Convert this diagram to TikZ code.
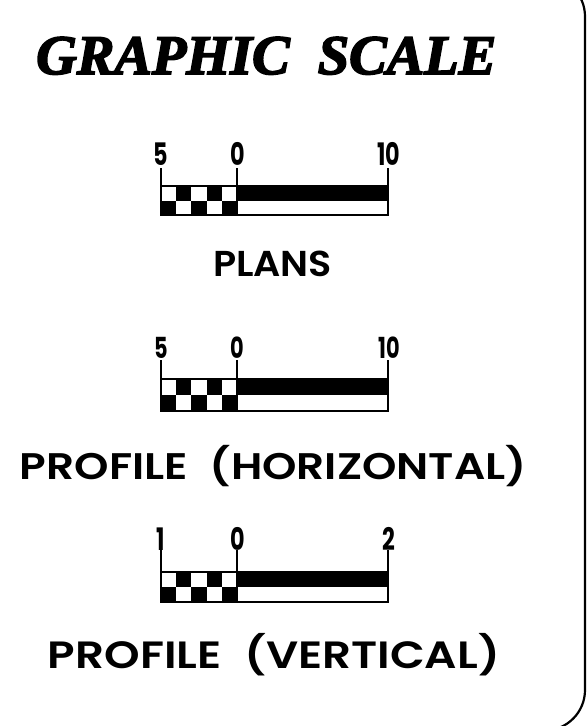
\documentclass[tikz,border=0pt]{standalone}
\usepackage{fontspec}
\setmainfont{Poppins}[BoldFont={Poppins SemiBold}]
\newfontfamily\digfont{Poppins Bold}
\newfontfamily\titlefont{Liberation Serif}[BoldItalicFeatures={FakeBold=3}]
\tikzset{
  lbl/.style={inner sep=0pt},
  txt/.style={inner sep=0pt, anchor=base, font=\bfseries},
  barline/.style={line width=1.8pt},
  frame/.style={line width=2.2pt, rounded corners=40.5pt}
}
% #1 name, #2 top, #3 bottom, #4 tick top, #5 label baseline, #6 #7 #8 labels, #9 label size
\newcommand\gsdigit[2]{\scalebox{0.72}[1]{\digfont\fontsize{#1}{#1}\selectfont #2}}
\newcommand\gsbar[9]{%
  \pgfmathsetmacro\gsmid{(#2+#3)/2}%
  \foreach \i in {0,...,4}{%
    \pgfmathsetmacro\xa{161+\i*15.2}%
    \pgfmathsetmacro\xb{\xa+15.2}%
    \ifodd\i\relax
      \fill (\xa,#2) rectangle (\xb,\gsmid);
    \else
      \fill (\xa,\gsmid) rectangle (\xb,#3);
    \fi
  }
  \fill (237,#2) rectangle (388,\gsmid);
  \draw[barline] (161,#2) rectangle (388,#3);
  \draw[barline] (237,#2) -- (237,#3);
  \coordinate (#1a) at (161,#4);
  \coordinate (#1b) at (237,#4);
  \coordinate (#1c) at (388,#4);
  \draw[barline] (#1a) -- (161,#2);
  \draw[barline] (#1b) -- (237,#2);
  \draw[barline] (#1c) -- (388,#2);
  \node[lbl, anchor=base] (#1l) at (161,#5) {\gsdigit{#9}{#6}};
  \node[lbl, anchor=base] (#1m) at (237.5,#5) {\gsdigit{#9}{#7}};
  \node[lbl, anchor=base] (#1r) at (389,#5) {\gsdigit{#9}{#8}};
}
\begin{document}
\begin{tikzpicture}[x=1pt,y=-1pt]
\useasboundingbox (0,0) rectangle (587,726);
\fill[white] (0,0) rectangle (587,726);
\clip (0,0) rectangle (587,726);
\draw[frame] (-60,-24) -- (585,-24) -- (585,730.5) -- (-60,730.5);

\node[inner sep=0pt, anchor=base west] (title) at (36,74)
  {\resizebox{460pt}{37pt}{\titlefont\bfseries\itshape GRAPHIC\hspace{0.5em}SCALE}};

\gsbar{s1}{186}{215}{168}{165}{5}{0}{10}{31}
\node[txt] (plans) at (272.5,276)
  {\resizebox{119pt}{\height}{\fontsize{36}{37}\selectfont PLANS}};

\gsbar{s2}{379}{411}{360}{358}{5}{0}{10}{29}
\node[txt] (profh) at (273.5,479)
  {\resizebox{507pt}{\height}{\fontsize{37}{38}\selectfont PROFILE\hspace{0.5em}(HORIZONTAL)}};

\gsbar{s3}{572}{602}{550}{550}{1}{0}{2}{31}
\node[txt] (profv) at (274,668)
  {\resizebox{452pt}{\height}{\fontsize{38}{39}\selectfont PROFILE\hspace{0.5em}(VERTICAL)}};
\end{tikzpicture}
\end{document}
